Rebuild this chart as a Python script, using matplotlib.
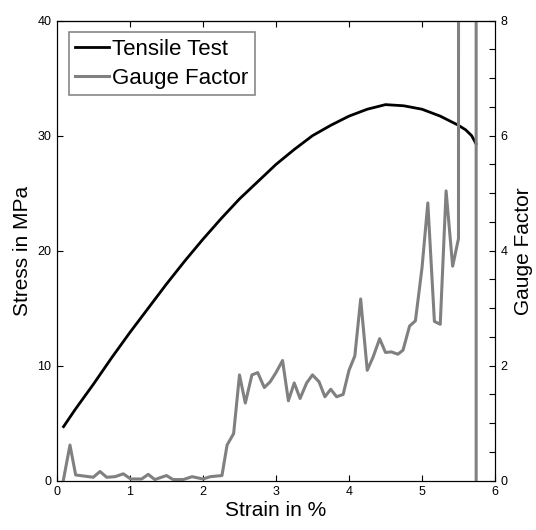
import numpy as np
import matplotlib
matplotlib.use("Agg")
import matplotlib.pyplot as plt
from matplotlib.ticker import MultipleLocator, FuncFormatter

plt.rcParams["font.family"] = ["Liberation Sans", "DejaVu Sans"]

# -----------------------------
# Data
# -----------------------------
strain_tt = [0.09, 0.25, 0.5, 0.75, 1.0, 1.25, 1.5, 1.75, 2.0, 2.25, 2.5, 2.75, 3.0,
             3.25, 3.5, 3.75, 4.0, 4.25, 4.5, 4.75, 5.0, 5.25, 5.5, 5.6, 5.68, 5.74]
stress_tt = [4.7, 6.2, 8.4, 10.7, 12.9, 15.0, 17.1, 19.1, 21.0, 22.8, 24.5, 26.0, 27.5,
             28.8, 30.0, 30.9, 31.7, 32.3, 32.7, 32.6, 32.3, 31.7, 30.9, 30.5, 30.0, 29.3]

strain_gf = [0.086, 0.178, 0.256, 0.497, 0.589, 0.681, 0.795, 0.908, 1.01, 1.16,
             1.25, 1.34, 1.50, 1.59, 1.73, 1.85, 2.00, 2.10, 2.26, 2.33,
             2.42, 2.50, 2.58, 2.67, 2.75, 2.84, 2.92, 3.00, 3.09, 3.17,
             3.25, 3.33, 3.42, 3.50, 3.59, 3.67, 3.75, 3.83, 3.92, 4.00,
             4.08, 4.16, 4.25, 4.33, 4.42, 4.50, 4.58, 4.67, 4.74, 4.83,
             4.91, 5.00, 5.08, 5.17, 5.25, 5.33, 5.42, 5.50, 5.505, 5.74, 5.742]
gauge_factor = [0.0, 0.62, 0.10, 0.06, 0.16, 0.06, 0.07, 0.12, 0.03, 0.03,
                0.11, 0.02, 0.09, 0.02, 0.02, 0.07, 0.03, 0.07, 0.09, 0.62,
                0.82, 1.84, 1.35, 1.84, 1.88, 1.62, 1.72, 1.88, 2.09, 1.39,
                1.70, 1.43, 1.70, 1.84, 1.72, 1.46, 1.59, 1.46, 1.50, 1.92,
                2.17, 3.16, 1.92, 2.15, 2.47, 2.23, 2.24, 2.20, 2.27, 2.69,
                2.78, 3.70, 4.83, 2.77, 2.72, 5.04, 3.73, 4.21, 60.0, 60.0, -1.0]

# -----------------------------
# Figure
# -----------------------------
fig = plt.figure(figsize=(5.36, 5.30), dpi=100)
ax = fig.add_axes([0.1063, 0.093, 0.8172, 0.868])
ax2 = ax.twinx()

l1, = ax.plot(strain_tt, stress_tt, color="black", lw=2.0, solid_joinstyle="round")
l2, = ax2.plot(strain_gf, gauge_factor, color="#808080", lw=2.2, solid_joinstyle="round")

ax.set_xlim(0, 6)
ax.set_ylim(0, 40)
ax2.set_ylim(0, 8)

ax.set_xticks(range(0, 7))
ax.set_yticks(range(0, 41, 10))
ax2.yaxis.set_major_locator(MultipleLocator(0.5))
ax2.yaxis.set_major_formatter(FuncFormatter(lambda v, p: f"{v:.0f}" if v % 2 == 0 else ""))

top = ax.secondary_xaxis("top")
top.set_xticks(range(1, 6))
top.set_xticklabels([])
top.tick_params(direction="in", length=4, width=0.8)

ax.tick_params(direction="in", length=4, width=0.8, labelsize=9, colors="black", pad=4)
ax2.tick_params(direction="in", length=4, width=0.8, labelsize=9, pad=4)

ax.set_xlabel("Strain in %", fontsize=15, labelpad=2)
ax.set_ylabel("Stress in MPa", fontsize=15, labelpad=4)
ax2.set_ylabel("Gauge Factor", fontsize=15, labelpad=5)

leg = ax2.legend([l1, l2], ["Tensile Test", "Gauge Factor"], loc="upper left",
                 bbox_to_anchor=(0.027, 0.975), fontsize=16, fancybox=False,
                 edgecolor="#888888", framealpha=1, borderpad=0.3,
                 handlelength=1.5, handletextpad=0.15, borderaxespad=0,
                 labelspacing=0.35)
leg.get_frame().set_linewidth(1.2)

plt.savefig("out.png", dpi=100)
